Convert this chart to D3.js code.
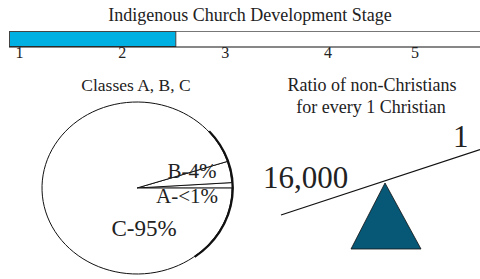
<!DOCTYPE html>
<html lang="en">
<head>
<meta charset="UTF-8">
<title>Indigenous Church Development Stage</title>
<script src="https://d3js.org/d3.v7.min.js"></script>
<style>
body{ margin:0; background:#fff; }
svg text{ font-family:"Liberation Serif", "Times New Roman", serif; fill:#222; }
</style>
</head>
<body>
<svg width="480" height="279"></svg>
<script>
// stage bar
const stages = [1, 2, 3, 4, 5];
const currentStage = 2.52;

// pie
const classNames = ['A', 'B', 'C'];
const classShares = [1, 4, 95];
const classLabels = ['A-<1%', 'B-4%', 'C-95%'];

// seesaw
const ratioLabels = ['16,000', '1'];

const svg = d3.select('svg');
const serif = '"Liberation Serif", "Times New Roman", serif';

// ---- top bar
svg.append('text').attr('x', 250).attr('y', 21).attr('text-anchor', 'middle')
  .attr('font-family', serif).style('font-size', '18px')
  .text('Indigenous Church Development Stage');

const x = d3.scaleLinear().domain([1, 4, 5]).range([19.5, 328, 415]);

svg.append('line').attr('x1', 9).attr('x2', 480).attr('y1', 31.5).attr('y2', 31.5)
  .attr('stroke', '#777').attr('stroke-width', 1.2);
svg.append('rect').attr('x', 9.5).attr('y', 31.5)
  .attr('width', x(currentStage) - 9.5).attr('height', 15)
  .attr('fill', '#00b0e3').attr('stroke', '#444').attr('stroke-width', 1);
svg.append('line').attr('x1', 9).attr('x2', 480).attr('y1', 47).attr('y2', 47)
  .attr('stroke', '#111').attr('stroke-width', 1.2);

svg.selectAll('.tick').data(stages).enter().append('text')
  .attr('class', 'tick')
  .attr('x', d => x(d)).attr('y', 57.5).attr('text-anchor', 'middle')
  .attr('font-family', serif).style('font-size', '16px').text(d => d);

// ---- pie
svg.append('text').attr('x', 136).attr('y', 91).attr('text-anchor', 'middle')
  .attr('font-family', serif).style('font-size', '17.5px').text('Classes A, B, C');

const rx = 95, ry = 86;
const pg = svg.append('g').attr('transform', `translate(137,188) scale(1,${ry / rx})`);
const pie = d3.pie().sort(null).startAngle(Math.PI / 2).endAngle(Math.PI / 2 - 2 * Math.PI);
const arc = d3.arc().innerRadius(0).outerRadius(rx);
const slices = pie(classShares);

pg.selectAll('path.slice').data(slices).enter().append('path')
  .attr('class', 'slice')
  .attr('d', arc)
  .attr('fill', '#fff')
  .attr('stroke', (d, i) => i === 0 ? '#777' : '#111')
  .attr('stroke-width', 1)
  .attr('vector-effect', 'non-scaling-stroke');

// heavier rim on the right side
const rim = d3.arc().innerRadius(rx).outerRadius(rx).startAngle(0.85).endAngle(2.5);
pg.append('path').attr('d', rim()).attr('fill', 'none').attr('stroke', '#111')
  .attr('stroke-width', 2.2).attr('vector-effect', 'non-scaling-stroke')
  .attr('transform', 'translate(0.8,0)');

const labelPos = [[187, 203, 21], [192, 178, 21], [144, 236, 23]];
svg.selectAll('.plabel').data(classLabels).enter().append('text')
  .attr('class', 'plabel')
  .attr('x', (d, i) => labelPos[i][0]).attr('y', (d, i) => labelPos[i][1])
  .attr('text-anchor', 'middle')
  .attr('font-family', serif)
  .style('font-size', (d, i) => labelPos[i][2] + 'px')
  .text(d => d);

// ---- seesaw
svg.append('text').attr('x', 372).attr('y', 91).attr('text-anchor', 'middle')
  .attr('font-family', serif).style('font-size', '18px').text('Ratio of non-Christians');
svg.append('text').attr('x', 371).attr('y', 113).attr('text-anchor', 'middle')
  .attr('font-family', serif).style('font-size', '18px').text('for every 1 Christian');

svg.append('line').attr('x1', 281).attr('y1', 215).attr('x2', 480).attr('y2', 149.5)
  .attr('stroke', '#111').attr('stroke-width', 1.2);

const tri = d3.line()([[385, 183], [421, 249], [351, 249]]) + 'Z';
svg.append('path').attr('d', tri).attr('fill', '#075777')
  .attr('stroke', '#111').attr('stroke-width', 0.8);

svg.append('text').attr('x', 263).attr('y', 188).attr('font-family', serif)
  .style('font-size', '31px').text(ratioLabels[0]);
svg.append('text').attr('x', 453).attr('y', 147).attr('font-family', serif)
  .style('font-size', '31px').text(ratioLabels[1]);
</script>
</body>
</html>
